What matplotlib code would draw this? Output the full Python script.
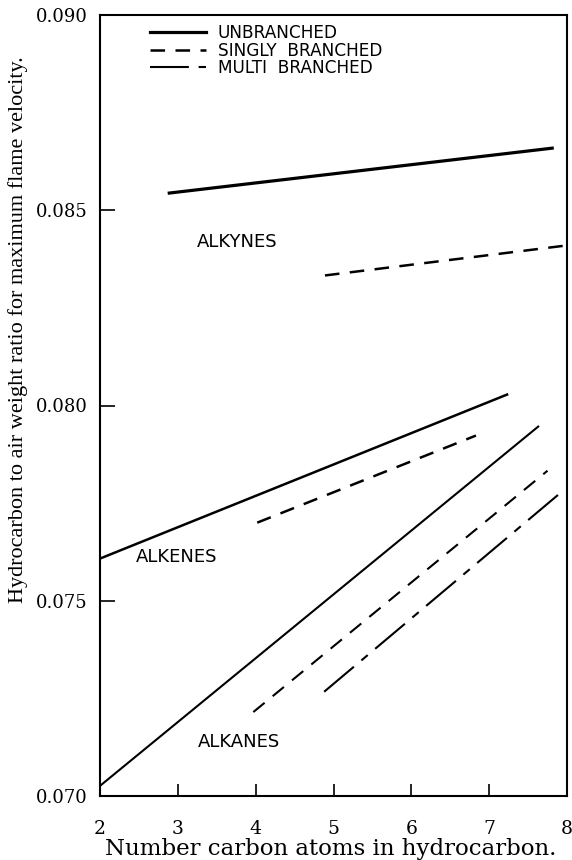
import matplotlib
matplotlib.use('Agg')
import matplotlib.pyplot as plt

plt.rcParams['lines.scale_dashes'] = False

# ---- data ----
alkynes_unbranched_x = [2.89, 7.81]
alkynes_unbranched_y = [0.08544, 0.08659]
alkynes_singly_x = [4.89, 8.0]
alkynes_singly_y = [0.08333, 0.08410]

alkenes_unbranched_x = [2.0, 7.23]
alkenes_unbranched_y = [0.07608, 0.08028]
alkenes_singly_x = [4.02, 6.83]
alkenes_singly_y = [0.07700, 0.07923]

alkanes_unbranched_x = [2.0, 7.63]
alkanes_unbranched_y = [0.07026, 0.07946]
alkanes_singly_x = [3.97, 7.75]
alkanes_singly_y = [0.07215, 0.07833]
alkanes_multi_x = [4.88, 7.95]
alkanes_multi_y = [0.07267, 0.07782]

x_ticks = [2, 3, 4, 5, 6, 7, 8]
y_ticks = [0.070, 0.075, 0.080, 0.085, 0.090]
y_tick_labels = ['0.070', '0.075', '0.080', '0.085', '0.090']
legend_labels = ['UNBRANCHED', 'SINGLY  BRANCHED', 'MULTI  BRANCHED']
group_labels = ['ALKYNES', 'ALKENES', 'ALKANES']

# ---- styles ----
solid = '-'
singly = (0, (10.5, 7.5))
multi = (0, (28, 7, 6, 7))

fig = plt.figure(figsize=(5.72, 8.6), dpi=100)
ax = fig.add_axes([100/572, 1 - 796/860, 467/572, 781/860])

lw = 1.5
h1, = ax.plot(alkynes_unbranched_x, alkynes_unbranched_y, color='black', lw=2.3, ls=solid, label=legend_labels[0])
h2, = ax.plot(alkynes_singly_x, alkynes_singly_y, color='black', lw=1.8, ls=singly, label=legend_labels[1])
ax.plot(alkenes_unbranched_x, alkenes_unbranched_y, color='black', lw=1.8, ls=solid)
ax.plot(alkenes_singly_x, alkenes_singly_y, color='black', lw=1.8, ls=singly)
ax.plot(alkanes_unbranched_x, alkanes_unbranched_y, color='black', lw=lw, ls=solid)
ax.plot(alkanes_singly_x, alkanes_singly_y, color='black', lw=lw, ls=singly)
h3, = ax.plot(alkanes_multi_x, alkanes_multi_y, color='black', lw=lw, ls=multi, label=legend_labels[2])

label_font = dict(family='DejaVu Sans', fontsize=13, color='black', va='center', ha='left')
ax.text(3.25, 0.08418, group_labels[0], **label_font)
ax.text(2.46, 0.07613, group_labels[1], **label_font)
ax.text(3.26, 0.07139, group_labels[2], **label_font)

ax.set_xlim(2, 8)
ax.set_ylim(0.070, 0.090)
ax.set_xticks(x_ticks)
ax.set_xticklabels([str(t) for t in x_ticks])
ax.set_yticks(y_ticks)
ax.set_yticklabels(y_tick_labels)

ax.tick_params(axis='x', direction='in', length=9, width=1.2, pad=17, labelsize=13.5)
ax.tick_params(axis='y', direction='in', length=11, width=1.2, pad=9, labelsize=13)
for lab in ax.get_xticklabels() + ax.get_yticklabels():
    lab.set_family('DejaVu Serif')

for s in ax.spines.values():
    s.set_linewidth(1.5)

ax.set_xlabel('Number carbon atoms in hydrocarbon.', family='DejaVu Serif', fontsize=16.5, va='center')
ax.xaxis.set_label_coords((331 - 100) / 467, (796 - 849) / 781)
ax.set_ylabel('Hydrocarbon to air weight ratio for maximum flame velocity.',
              family='Liberation Serif', fontsize=16, va='center')
ax.yaxis.set_label_coords((18 - 100) / 467, (796 - 330) / 781)

leg = ax.legend(handles=[h1, h2, h3], loc='upper left', bbox_to_anchor=(0.107, 0.988),
                frameon=False, borderaxespad=0, borderpad=0, handlelength=3.3,
                handletextpad=0.7, labelspacing=-0.05,
                prop=dict(family='DejaVu Sans', size=12.2))

fig.savefig('out.png', dpi=100)
